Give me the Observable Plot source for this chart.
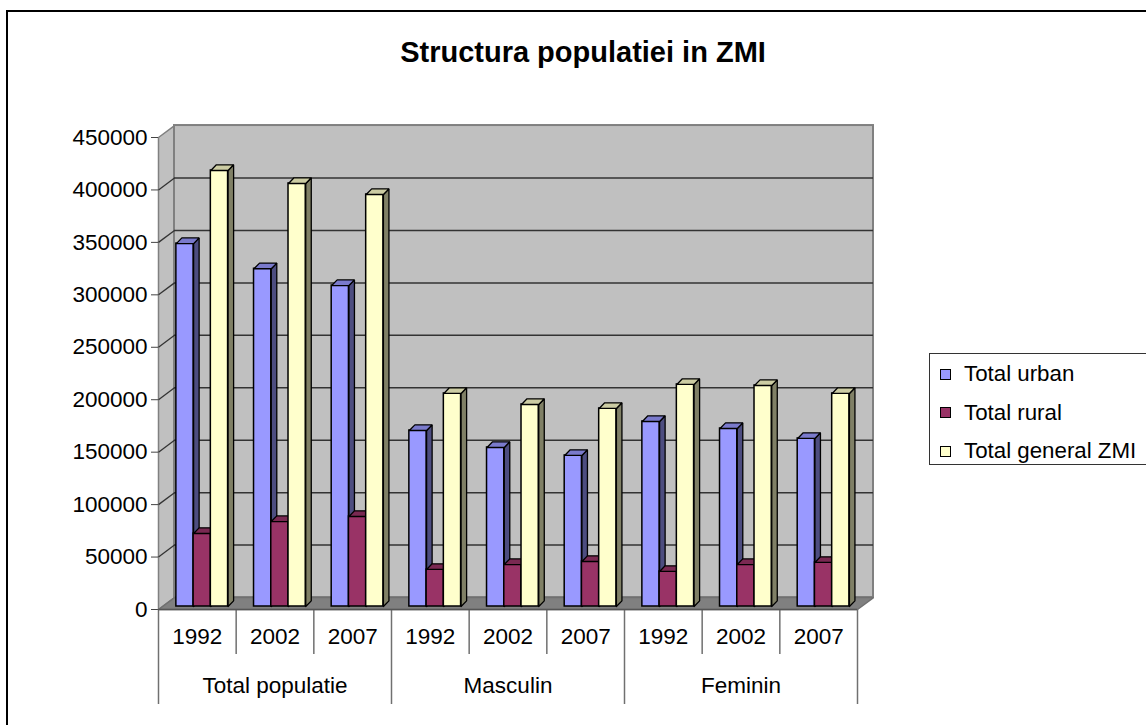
<!DOCTYPE html>
<html>
<head>
<meta charset="utf-8">
<script src="https://cdn.jsdelivr.net/npm/d3@7"></script>
<script src="https://cdn.jsdelivr.net/npm/@observablehq/plot@0.6"></script>
<style>
  html, body { margin: 0; padding: 0; background: #fff; overflow: hidden; }
  #wrap { position: relative; width: 1146px; height: 725px; overflow: hidden; font-family: "Liberation Sans", Arial, sans-serif; }
  #frame { position: absolute; left: 6px; top: 10px; width: 1160px; height: 740px; border: 2px solid #000; box-sizing: border-box; }
  #title { position: absolute; left: 0; top: 38px; width: 1166px; text-align: center; font-weight: bold; font-size: 29px; line-height: 29px; color: #000; }
  #chart { position: absolute; left: 0; top: 0; }
  #legend { position: absolute; left: 929px; top: 353px; width: 240px; height: 112px; border: 1px solid #333; box-sizing: border-box; padding-top: 1px; }
  .row { display: flex; align-items: center; height: 38.5px; font-size: 22.3px; color: #000; }
  .sw { width: 11px; height: 11px; border: 1px solid #000; margin-left: 10px; margin-right: 13px; box-sizing: border-box; }
</style>
</head>
<body>
<div id="wrap">
  <div id="frame"></div>
  <div id="chart"></div>
  <div id="title"></div>
  <div id="legend"></div>
</div>
<script>
// ---- data ----
const groups = ["Total populatie", "Masculin", "Feminin"];
const years = ["1992", "2002", "2007"];
const seriesNames = ["Total urban", "Total rural", "Total general ZMI"];
const totalUrban   = [346000, 322000, 306000, 167800, 151600, 144000, 176400, 169700, 160200];
const totalRural   = [69600, 81000, 85800, 35300, 40000, 42900, 33400, 40000, 42000];
const totalGeneral = [415700, 403300, 392800, 203100, 192600, 188800, 211700, 210700, 203100];
const yTicks = [0, 50000, 100000, 150000, 200000, 250000, 300000, 350000, 400000, 450000];
const titleText = "Structura populatiei in ZMI";

// ---- styling ----
const palette = [
  {front: "#9999ff", side: "#4d4d80", top: "#7a7acc"},
  {front: "#993366", side: "#4d1a33", top: "#7a2952"},
  {front: "#ffffcc", side: "#808066", top: "#cccca3"}
];
const seriesValues = [totalUrban, totalRural, totalGeneral];
const nSlots = groups.length * years.length;
const yMax = yTicks[yTicks.length - 1];

// depth offsets (in scale units)
const wallDx = 0.206, wallDy = 11400;
const barDx = 0.071, barDy = 5400;
const barBase = 2860;
const barOffset = 0.23, barW = 0.222;

const bars = [];
seriesValues.forEach((vals, j) => vals.forEach((v, i) => {
  const xl = i + barOffset + j * barW;
  bars.push({id: `${i}-${j}`, series: j, xl, xr: xl + barW, y0: barBase, y1: barBase + v});
}));

function sidePoly(b) {
  return [[b.xr, b.y0], [b.xr + barDx, b.y0 + barDy], [b.xr + barDx, b.y1 + barDy], [b.xr, b.y1], [b.xr, b.y0]]
    .map(([x, y]) => ({id: b.id, x, y}));
}
function topPoly(b) {
  return [[b.xl, b.y1], [b.xr, b.y1], [b.xr + barDx, b.y1 + barDy], [b.xl + barDx, b.y1 + barDy], [b.xl, b.y1]]
    .map(([x, y]) => ({id: b.id, x, y}));
}

const sideWall = [[0, 0], [wallDx, wallDy], [wallDx, yMax + wallDy], [0, yMax], [0, 0]].map(([x, y]) => ({x, y}));
const floor = [[0, 0], [nSlots, 0], [nSlots + wallDx, wallDy], [wallDx, wallDy], [0, 0]].map(([x, y]) => ({x, y}));
const inner = yTicks.filter(t => t > 0 && t < yMax);

const barMarks = [];
[0, 1, 2].forEach(j => {
  const bs = bars.filter(b => b.series === j);
  barMarks.push(Plot.rect(bs, {x1: "xl", x2: "xr", y1: "y0", y2: "y1", fill: palette[j].front, stroke: "#000", strokeWidth: 1.5}));
  barMarks.push(Plot.line(bs.flatMap(sidePoly), {x: "x", y: "y", z: "id", fill: palette[j].side, stroke: "#000", strokeWidth: 1.3, strokeLinejoin: "miter"}));
  barMarks.push(Plot.line(bs.flatMap(topPoly), {x: "x", y: "y", z: "id", fill: palette[j].top, stroke: "#000", strokeWidth: 1.3, strokeLinejoin: "miter"}));
});

const chart = Plot.plot({
  width: 1146,
  height: 725,
  marginLeft: 158,
  marginRight: 289,
  marginTop: 137,
  marginBottom: 116,
  x: {domain: [0, nSlots], label: null},
  y: {domain: [0, yMax], label: null},
  style: {fontFamily: "'Liberation Sans', Arial, sans-serif", fontSize: "22.5px", color: "#000", background: "transparent", overflow: "visible"},
  marks: [
    // walls
    Plot.line(sideWall, {x: "x", y: "y", fill: "#c0c0c0", stroke: "#808080", strokeWidth: 1.5, strokeLinejoin: "miter"}),
    Plot.rect([0], {x1: wallDx, x2: nSlots + wallDx, y1: wallDy, y2: yMax + wallDy, fill: "#c0c0c0", stroke: "#808080", strokeWidth: 2}),
    Plot.ruleY(inner, {x1: wallDx, x2: nSlots + wallDx, y: d => d + wallDy, stroke: "#333", strokeWidth: 1.5}),
    Plot.link(inner, {x1: 0, y1: d => d, x2: wallDx, y2: d => d + wallDy, stroke: "#333", strokeWidth: 1.3}),
    Plot.line(floor, {x: "x", y: "y", fill: "#808080", stroke: "#707070", strokeWidth: 1.5, strokeLinejoin: "miter"}),
    // bars
    ...barMarks,
    // axes
    Plot.axisY({ticks: yTicks, tickSize: 7, tickPadding: 4, tickFormat: d3.format("d"), label: null, stroke: "#444", fontSize: 22.5}),
    Plot.axisX({ticks: [1, 2, 4, 5, 7, 8], tickSize: 45, tickFormat: () => "", label: null, stroke: "#707070", strokeWidth: 1.5}),
    Plot.axisX({ticks: [0, 3, 6, 9], tickSize: 95, tickFormat: () => "", label: null, stroke: "#707070", strokeWidth: 1.5}),
    Plot.axisX({ticks: d3.range(nSlots).map(i => i + 0.5), tickSize: 0, tickPadding: 19, tickFormat: v => years[Math.floor(v) % years.length], label: null, fontSize: 22.5}),
    Plot.axisX({ticks: groups.map((g, k) => k * years.length + years.length / 2), tickSize: 0, tickPadding: 68, tickFormat: v => groups[Math.floor(v / years.length)], label: null, fontSize: 22.5}),
    Plot.ruleY([0], {x1: 0, x2: nSlots, stroke: "#555", strokeWidth: 1.5})
  ]
});
document.getElementById("chart").appendChild(chart);
document.getElementById("title").textContent = titleText;

const legend = document.getElementById("legend");
seriesNames.forEach((name, j) => {
  const row = document.createElement("div");
  row.className = "row";
  const sw = document.createElement("div");
  sw.className = "sw";
  sw.style.background = palette[j].front;
  const label = document.createElement("span");
  label.textContent = name;
  row.appendChild(sw);
  row.appendChild(label);
  legend.appendChild(row);
});
</script>
</body>
</html>
